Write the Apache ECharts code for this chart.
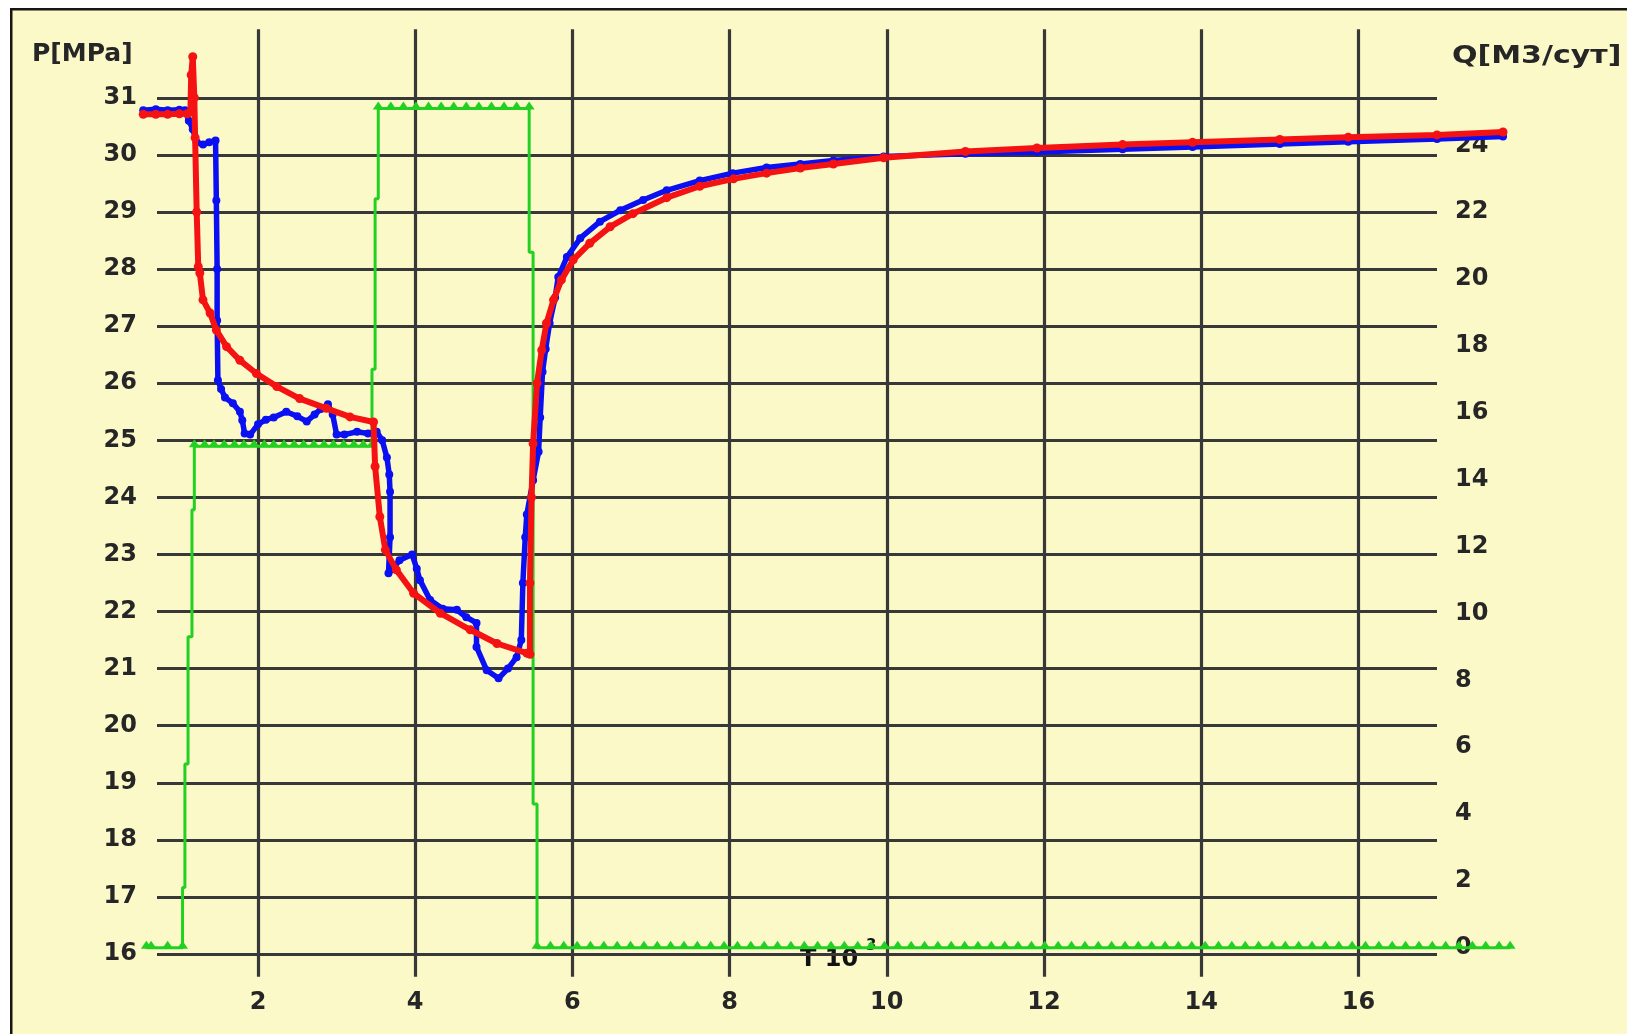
<!DOCTYPE html>
<html><head><meta charset="utf-8">
<script src="https://cdn.jsdelivr.net/npm/echarts@6/dist/echarts.min.js"></script>
<style>html,body{margin:0;padding:0;background:#fff}#c{width:1627px;height:1034px}</style>
</head><body><div id="c"></div>
<script>
// ---------------- DATA ----------------
const timeTicks = [2, 4, 6, 8, 10, 12, 14, 16];
const pressureTicks = [16,17,18,19,20,21,22,23,24,25,26,27,28,29,30,31];
const flowTicks = [0,2,4,6,8,10,12,14,16,18,20,22,24];

// measured pressure (blue) [T, P]
const pressureMeasured = [
  [0.54,30.78],[0.70,30.80],[0.85,30.78],[1.00,30.79],[1.07,30.78],[1.12,30.60],[1.17,30.45],
  [1.22,30.22],[1.30,30.18],[1.38,30.22],[1.46,30.25],[1.47,29.20],[1.48,28.00],[1.48,27.10],
  [1.49,26.05],[1.53,25.90],[1.58,25.75],[1.68,25.65],[1.77,25.50],[1.80,25.35],[1.83,25.12],
  [1.90,25.10],[2.00,25.28],[2.10,25.36],[2.20,25.40],[2.36,25.50],[2.50,25.42],[2.62,25.33],
  [2.72,25.45],[2.80,25.55],[2.89,25.63],[2.95,25.45],[3.00,25.10],[3.10,25.10],[3.26,25.15],
  [3.40,25.12],[3.51,25.15],[3.58,25.00],[3.64,24.70],[3.67,24.40],[3.68,24.10],[3.68,23.30],
  [3.66,22.67],[3.72,22.75],[3.80,22.90],[3.96,23.00],[4.02,22.75],[4.06,22.55],[4.19,22.20],
  [4.35,22.05],[4.53,22.03],[4.65,21.90],[4.78,21.80],[4.78,21.38],[4.91,20.97],[5.06,20.83],
  [5.18,21.00],[5.29,21.20],[5.35,21.50],[5.37,22.50],[5.40,23.30],[5.42,23.70],[5.50,24.30],
  [5.57,24.80],[5.59,25.40],[5.62,26.20],[5.66,26.60],[5.71,27.05],[5.78,27.50],[5.82,27.86],
  [5.93,28.21],[6.10,28.54],[6.35,28.83],[6.61,29.03],[6.90,29.21],[7.20,29.38],[7.62,29.55],
  [8.04,29.68],[8.47,29.78],[8.90,29.84],[9.32,29.90],[9.96,29.97],[11.00,30.02],[11.91,30.05],
  [13.00,30.10],[13.89,30.14],[15.00,30.19],[15.87,30.23],[17.00,30.28],[17.84,30.32]
];

// model pressure (red) [T, P]
const pressureModel = [
  [0.54,30.71],[0.70,30.71],[0.85,30.71],[1.00,30.72],[1.10,30.72],[1.14,30.75],[1.15,31.40],
  [1.17,31.72],[1.19,31.00],[1.20,30.30],[1.22,29.00],[1.24,28.04],[1.26,27.93],[1.30,27.46],
  [1.39,27.23],[1.47,26.93],[1.60,26.64],[1.77,26.40],[1.98,26.17],[2.24,25.94],[2.53,25.73],
  [2.87,25.56],[3.17,25.41],[3.47,25.32],[3.49,24.54],[3.55,23.66],[3.62,23.08],[3.76,22.73],
  [3.98,22.32],[4.32,21.97],[4.70,21.68],[5.04,21.44],[5.42,21.27],[5.46,21.25],[5.46,22.50],
  [5.48,24.00],[5.50,24.94],[5.55,26.00],[5.61,26.58],[5.67,27.05],[5.76,27.46],[5.86,27.81],
  [6.01,28.16],[6.22,28.45],[6.48,28.74],[6.77,28.97],[7.20,29.25],[7.62,29.45],[8.05,29.58],
  [8.47,29.68],[8.90,29.77],[9.32,29.84],[9.96,29.95],[11.00,30.06],[11.91,30.12],[13.00,30.18],
  [13.89,30.22],[15.00,30.27],[15.87,30.31],[17.00,30.35],[17.84,30.40]
];

// flow rate (green) Q [m3/day]
const flowLevels = { off: 0, low: 15.0, high: 25.1 };
const flowTimesOffA = [0.58, 0.64, 0.85, 1.04];
const flowRise1 = [[1.04,1.8],[1.07,1.8],[1.07,5.5],[1.11,5.5],[1.11,9.3],[1.16,9.3],[1.16,13.1],[1.19,13.1]];
const flowTimesLow = [1.19,1.32,1.44,1.57,1.70,1.82,1.95,2.08,2.20,2.33,2.46,2.58,2.71,2.84,2.96,3.09,3.22,3.34,3.45];
const flowRise2 = [[3.45,17.3],[3.49,17.3],[3.49,22.4],[3.53,22.4]];
const flowTimesHigh = [3.53,3.69,3.85,4.01,4.17,4.33,4.49,4.65,4.81,4.97,5.13,5.29,5.45];
const flowFall = [[5.45,20.8],[5.50,20.8],[5.50,4.3],[5.55,4.3]];
const flowTimesOffB = [5.55,5.72,5.89,6.06,6.23,6.40,6.57,6.74,6.91,7.08,7.25,7.42,7.59,7.76,7.93,
  8.10,8.27,8.44,8.61,8.78,8.95,9.12,9.29,9.46,9.63,9.80,9.97,10.14,10.31,10.48,10.65,10.82,10.99,
  11.16,11.33,11.50,11.67,11.84,12.01,12.18,12.35,12.52,12.69,12.86,13.03,13.20,13.37,13.54,13.71,
  13.88,14.05,14.22,14.39,14.56,14.73,14.90,15.07,15.24,15.41,15.58,15.75,15.92,16.09,16.26,16.43,
  16.60,16.77,16.94,17.11,17.28,17.45,17.62,17.79,17.93];

// ---------------- LAYOUT ----------------
const W = 1627, H = 1034;
const xPx0 = 100.8, xPxPer = 78.6;          // pixel of T=0, px per T unit
const xMin = 0, xMax = 18;
const pPx16 = 954, pPxPer = 57.08;           // pixel of P=16, px per MPa
const pMin = 15.6, pMax = 32.2;              // extent of vertical grid lines
const qZeroP = 16.109, qPerP = 1.7071;       // Q axis alignment against P axis
const pPx = p => pPx16 - (p - 16) * pPxPer;
const qPx = q => pPx(qZeroP + q / qPerP);
const hLineLeft = 157, hLineRight = 1437;

const g0 = { left: xPx0, right: W - (xPx0 + (xMax - xMin) * xPxPer), top: pPx(pMax), bottom: H - pPx(pMin) };
const g1 = { left: hLineLeft, right: W - hLineRight, top: pPx(31), bottom: H - pPx(16) };
const g2 = { left: hLineLeft, right: W - hLineRight, top: qPx(24), bottom: H - qPx(0) };
const qMin = (pMin - qZeroP) * qPerP, qMax = (pMax - qZeroP) * qPerP;

// build flow data, markers only on the flat parts
const flowData = [];
const addFlat = (ts, q) => ts.forEach(t => flowData.push({ value: [t, q] }));
const addStep = pts => pts.forEach(p => flowData.push({ value: p, symbol: 'none' }));
addFlat(flowTimesOffA, flowLevels.off);
addStep(flowRise1);
addFlat(flowTimesLow, flowLevels.low);
addStep(flowRise2);
addFlat(flowTimesHigh, flowLevels.high);
addStep(flowFall);
addFlat(flowTimesOffB, flowLevels.off);

const labelFont = { fontFamily: 'DejaVu Sans', fontWeight: 'bold', fontSize: 24, color: '#262626' };
const gridColor = '#383838';

const chart = echarts.init(document.getElementById('c'), null, { renderer: 'canvas' });
chart.setOption({
  animation: false,
  backgroundColor: '#FCF9C9',
  grid: [
    Object.assign({ containLabel: false }, g0),
    Object.assign({ containLabel: false }, g1),
    Object.assign({ containLabel: false }, g2)
  ],
  xAxis: [
    { type: 'value', gridIndex: 0, min: xMin, max: xMax, interval: 2,
      axisLine: { show: false }, axisTick: { show: false },
      splitLine: { show: true, showMinLine: false, showMaxLine: false, lineStyle: { color: gridColor, width: 3.2 } },
      axisLabel: Object.assign({ margin: 14, showMinLabel: false, showMaxLabel: false,
        formatter: v => timeTicks.includes(v) ? String(v) : '' }, labelFont) },
    { type: 'value', gridIndex: 1, min: 0, max: 1, show: false },
    { type: 'value', gridIndex: 2, min: 0, max: 1, show: false }
  ],
  yAxis: [
    { type: 'value', gridIndex: 0, min: pMin, max: pMax, show: false },
    { type: 'value', gridIndex: 0, min: qMin, max: qMax, show: false },
    { type: 'value', gridIndex: 1, position: 'left', min: pressureTicks[0], max: pressureTicks[pressureTicks.length - 1], interval: 1,
      axisLine: { show: false }, axisTick: { show: false },
      splitLine: { show: true, lineStyle: { color: gridColor, width: 3.2 } },
      axisLabel: Object.assign({ margin: 20 }, labelFont) },
    { type: 'value', gridIndex: 2, position: 'right', min: flowTicks[0], max: flowTicks[flowTicks.length - 1], interval: 2,
      axisLine: { show: false }, axisTick: { show: false }, splitLine: { show: false },
      axisLabel: Object.assign({ margin: 18 }, labelFont) }
  ],
  series: [
    { name: 'Q', type: 'line', xAxisIndex: 0, yAxisIndex: 1, data: flowData, z: 3,
      lineStyle: { color: '#22D022', width: 3 }, itemStyle: { color: '#22D022' },
      symbol: 'triangle', symbolSize: [11, 8], symbolOffset: [0, -3], showSymbol: true },
    { name: 'P measured', type: 'line', xAxisIndex: 0, yAxisIndex: 0, data: pressureMeasured, z: 4,
      lineStyle: { color: '#0A10F2', width: 5.5 }, itemStyle: { color: '#0A10F2' },
      symbol: 'circle', symbolSize: 8 },
    { name: 'P model', type: 'line', xAxisIndex: 0, yAxisIndex: 0, data: pressureModel, z: 5,
      lineStyle: { color: '#F41212', width: 6 }, itemStyle: { color: '#F41212' },
      symbol: 'circle', symbolSize: 9 }
  ],
  graphic: [
    { type: 'rect', shape: { x: 0, y: 0, width: 10, height: H }, style: { fill: '#ffffff' }, silent: true },
    { type: 'rect', shape: { x: 0, y: 0, width: W, height: 8 }, style: { fill: '#ffffff' }, silent: true },
    { type: 'rect', shape: { x: 10, y: 8, width: 2.5, height: H }, style: { fill: '#161616' }, silent: true },
    { type: 'rect', shape: { x: 10, y: 8, width: W, height: 2.5 }, style: { fill: '#161616' }, silent: true },
    { type: 'text', x: 32, y: 54, style: { text: 'P[MPa]', fill: '#262626', font: 'bold 25px "DejaVu Sans"', verticalAlign: 'middle' } },
    { type: 'text', x: 1452, y: 56, scaleX: 1.2, style: { text: 'Q[М3/сут]', fill: '#262626', font: 'bold 25px "DejaVu Sans"', verticalAlign: 'middle' } },
    { type: 'text', x: 800, y: 960, z: 0, style: { text: 'T 10', fill: '#111111', font: 'bold 24px "DejaVu Sans"', verticalAlign: 'middle' } },
    { type: 'text', x: 866, y: 946, z: 0, style: { text: '3', fill: '#111111', font: 'bold 15px "DejaVu Sans"', verticalAlign: 'middle' } }
  ]
});
</script></body></html>
